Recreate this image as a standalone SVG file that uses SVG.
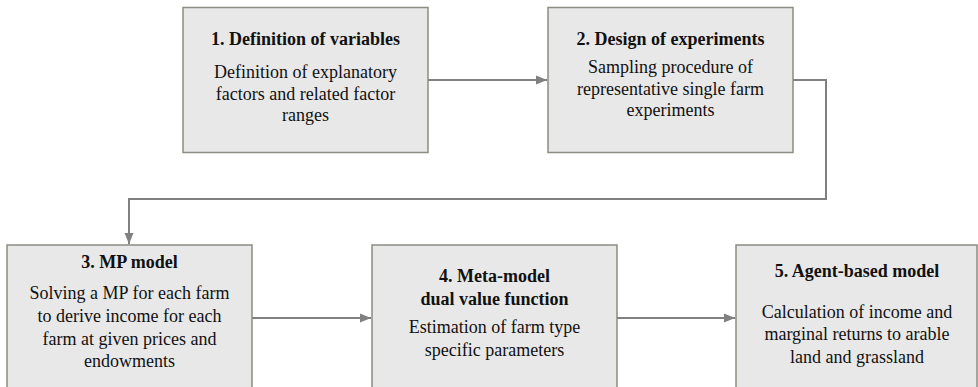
<svg xmlns="http://www.w3.org/2000/svg" width="978" height="387" viewBox="0 0 978 387">
<style>
.box{fill:#e8e8e8;stroke:#8c8c84;stroke-width:1.5}
.t{font-family:'Liberation Serif','Times New Roman',serif;font-size:18px;fill:#111;text-anchor:middle}
.b{font-weight:bold}
.c{fill:none;stroke:#808080;stroke-width:2}
</style>
<defs>
<marker id="ah" markerUnits="userSpaceOnUse" markerWidth="12" markerHeight="12" viewBox="0 0 12 12" refX="11" refY="6" orient="auto">
<path d="M0,1.5 L11,6 L0,10.5 Z" fill="#808080"/>
</marker>
</defs>
<g id="connectors">
<path class="c" d="M428,80 H547" marker-end="url(#ah)"/>
<path class="c" d="M793,80 H826 V199 H129 V244" marker-end="url(#ah)"/>
<path class="c" d="M252,318 H371" marker-end="url(#ah)"/>
<path class="c" d="M617,318 H735" marker-end="url(#ah)"/>
</g>
<g id="n1">
<rect class="box" x="183" y="7.5" width="245" height="145"/>
<text class="t b" x="305.5" y="45">1. Definition of variables</text>
<text class="t" x="305.5" y="78">Definition of explanatory</text>
<text class="t" x="305.5" y="99.5">factors and related factor</text>
<text class="t" x="305.5" y="121">ranges</text>
</g>
<g id="n2">
<rect class="box" x="548" y="7.5" width="245" height="145"/>
<text class="t b" x="670.5" y="45">2. Design of experiments</text>
<text class="t" x="670.5" y="73">Sampling procedure of</text>
<text class="t" x="670.5" y="95">representative single farm</text>
<text class="t" x="670.5" y="116">experiments</text>
</g>
<g id="n3">
<rect class="box" x="7" y="245" width="245" height="150"/>
<text class="t b" x="129.5" y="268">3. MP model</text>
<text class="t" x="129.5" y="299">Solving a MP for each farm</text>
<text class="t" x="129.5" y="322">to derive income for each</text>
<text class="t" x="129.5" y="344.5">farm at given prices and</text>
<text class="t" x="129.5" y="367">endowments</text>
</g>
<g id="n4">
<rect class="box" x="372" y="245" width="245" height="150"/>
<text class="t b" x="494.5" y="282">4. Meta-model</text>
<text class="t b" x="494.5" y="305">dual value function</text>
<text class="t" x="494.5" y="333">Estimation of farm type</text>
<text class="t" x="494.5" y="356">specific parameters</text>
</g>
<g id="n5">
<rect class="box" x="736" y="245" width="241" height="150"/>
<text class="t b" x="857" y="277">5. Agent-based model</text>
<text class="t" x="857" y="318">Calculation of income and</text>
<text class="t" x="857" y="340">marginal returns to arable</text>
<text class="t" x="857" y="363">land and grassland</text>
</g>
</svg>
